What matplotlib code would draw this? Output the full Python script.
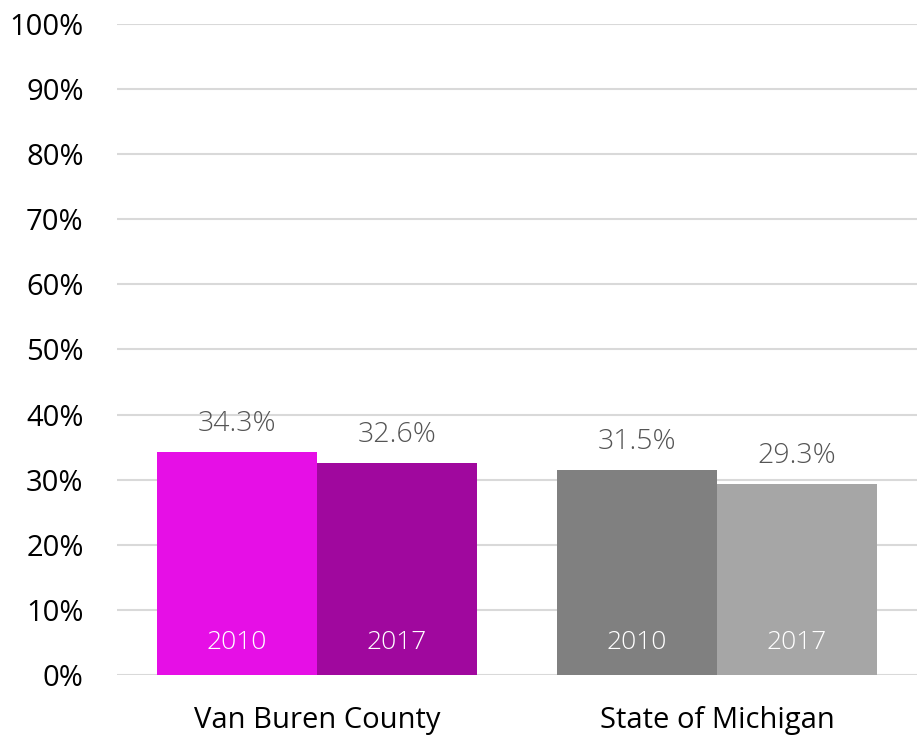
import matplotlib
matplotlib.use("Agg")
import matplotlib.pyplot as plt
import numpy as np

plt.rcParams['font.family'] = ['Open Sans', 'DejaVu Sans']

categories = ["Van Buren County", "State of Michigan"]
years = ["2010", "2017"]
values_2010 = [34.3, 31.5]
values_2017 = [32.6, 29.3]
colors_2010 = ["#E60FE6", "#808080"]
colors_2017 = ["#A0089E", "#A6A6A6"]

fig = plt.figure(figsize=(9.17, 7.38), dpi=100)
ax = fig.add_axes([0.1276, 0.0854, 0.8724, 0.8821])

x = np.arange(len(categories))
width = 0.4

bars_a = ax.bar(x - width / 2, values_2010, width, color=colors_2010, zorder=2)
bars_b = ax.bar(x + width / 2, values_2017, width, color=colors_2017, zorder=2)

# value labels above each bar
for bars, vals in [(bars_a, values_2010), (bars_b, values_2017)]:
    for bar, v in zip(bars, vals):
        cx = bar.get_x() + bar.get_width() / 2
        ax.annotate(f"{v:.1f}%", (cx, v), xytext=(0, 10), textcoords="offset points",
                    ha="center", va="bottom", fontsize=20.5, color="#555555",
                    fontweight="light")

# year names inside the bars
for bars, yr in [(bars_a, years[0]), (bars_b, years[1])]:
    for bar in bars:
        cx = bar.get_x() + bar.get_width() / 2
        ax.text(cx, 5.0, yr, ha="center", va="center", fontsize=19,
                color="white", fontweight="light", zorder=3)

ax.set_xlim(-0.5, 1.5)
ax.set_ylim(0, 100)
ax.set_yticks(np.arange(0, 101, 10))
ax.set_yticklabels([f"{t}%" for t in range(0, 101, 10)], fontsize=21)
ax.set_xticks(x)
ax.set_xticklabels(categories, fontsize=21)
ax.tick_params(axis="both", length=0, colors="black")
ax.tick_params(axis="y", pad=24)
ax.tick_params(axis="x", pad=22)

ax.yaxis.grid(True, color="#D9D9D9", linewidth=1.5, zorder=0)
ax.set_axisbelow(True)
for s in ax.spines.values():
    s.set_visible(False)

fig.savefig("out.png", dpi=100)
